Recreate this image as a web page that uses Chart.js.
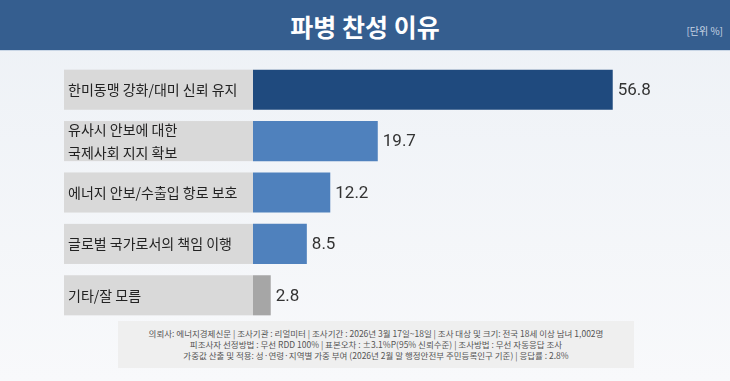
<!DOCTYPE html>
<html>
<head>
<meta charset="utf-8">
<script src="https://cdn.jsdelivr.net/npm/chart.js@4"></script>
<style>
  html, body { margin: 0; padding: 0; }
  body { width: 730px; height: 381px; overflow: hidden; position: relative;
         background: linear-gradient(#edf1f6, #f8f9fb); font-family: Roboto, "Noto Sans CJK KR", sans-serif; }
  #header { position: absolute; left: 0; top: 0; width: 730px; height: 50px; background: #355e8f;
            border-bottom: 1px solid #c9d6e6; }
  #title { position: absolute; left: 0; width: 730px; top: 8px; text-align: center; color: #fff;
           font: bold 25px "Noto Sans CJK KR", sans-serif; }
  #unit { position: absolute; right: 7px; top: 23px; color: #c8d4e4; font: 10px "Noto Sans CJK KR", sans-serif; }
  #chart { position: absolute; left: 0; top: 0; }
  #footer { position: absolute; left: 118px; top: 321px; width: 516px; height: 47px; background: #efefef;
            color: #555; font: 8.5px "Noto Sans CJK KR", sans-serif; text-align: center; line-height: 11px;
            padding-top: 7px; box-sizing: border-box; }
</style>
</head>
<body>
<div id="header"><div id="title">파병 찬성 이유</div><div id="unit">[단위 %]</div></div>
<canvas id="chart" width="730" height="381"></canvas>
<div id="footer">
  <div>의뢰사: 에너지경제신문 | 조사기관 : 리얼미터 | 조사기간 : 2026년 3월 17일~18일 | 조사 대상 및 크기: 전국 18세 이상 남녀 1,002명</div>
  <div>피조사자 선정방법 : 무선 RDD 100% | 표본오차 : ±3.1%P(95% 신뢰수준) | 조사방법 : 무선 자동응답 조사</div>
  <div>가중값 산출 및 적용: 성·연령·지역별 가중 부여 (2026년 2월 말 행정안전부 주민등록인구 기준) | 응답률 : 2.8%</div>
</div>
<script>
const categories = [
  '한미동맹 강화/대미 신뢰 유지',
  ['유사시 안보에 대한', '국제사회 지지 확보'],
  '에너지 안보/수출입 항로 보호',
  '글로벌 국가로서의 책임 이행',
  '기타/잘 모름'
];
const values = [56.8, 19.7, 12.2, 8.5, 2.8];
const barColors = ['#1f4a7e', '#4f81bd', '#4f81bd', '#4f81bd', '#a6a6a6'];

// gray boxes behind the category labels (drawn before the axes)
const labelBoxes = {
  id: 'labelBoxes',
  beforeDraw(chart) {
    const ctx = chart.ctx;
    const meta = chart.getDatasetMeta(0);
    ctx.save();
    ctx.fillStyle = '#d9d9d9';
    meta.data.forEach(bar => {
      const h = bar.height;
      ctx.fillRect(64, bar.y - h / 2, chart.chartArea.left - 64, h);
    });
    ctx.restore();
  }
};

// value labels at bar ends
const valueLabels = {
  id: 'valueLabels',
  afterDatasetsDraw(chart) {
    const ctx = chart.ctx;
    const meta = chart.getDatasetMeta(0);
    ctx.save();
    ctx.fillStyle = '#333';
    ctx.font = '17px Roboto, "Noto Sans CJK KR", sans-serif';
    ctx.textBaseline = 'middle';
    meta.data.forEach((bar, i) => {
      ctx.fillText(values[i].toFixed(1), bar.x + 5, bar.y + 1);
    });
    ctx.restore();
  }
};

new Chart(document.getElementById('chart'), {
  type: 'bar',
  data: {
    labels: categories,
    datasets: [{
      data: values,
      backgroundColor: barColors,
      borderWidth: 0,
      barPercentage: 0.78,
      categoryPercentage: 1
    }]
  },
  options: {
    indexAxis: 'y',
    responsive: false,
    animation: false,
    layout: { padding: { left: 68, right: 2, top: 64, bottom: 60 } },
    plugins: { legend: { display: false }, tooltip: { enabled: false } },
    scales: {
      x: { display: false, min: 0, max: 75 },
      y: {
        grid: { display: false },
        border: { display: false },
        afterFit(scale) { scale.width = 185; },
        ticks: {
          crossAlign: 'far',
          color: '#222',
          font: { size: 14, family: '"Noto Sans CJK KR", sans-serif', lineHeight: 1.7 }
        }
      }
    }
  },
  plugins: [labelBoxes, valueLabels]
});
</script>
</body>
</html>
